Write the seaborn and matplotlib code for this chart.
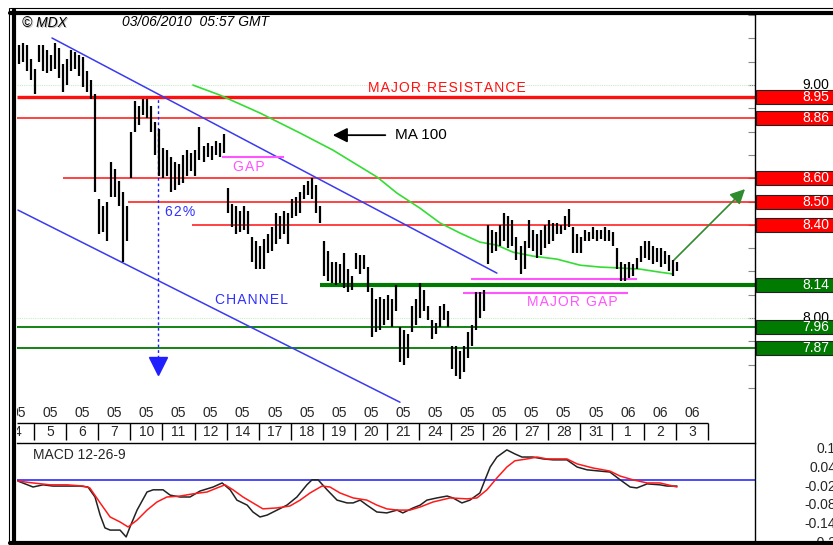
"""
MDX daily chart with support / resistance levels and MACD
"""
# Libraries
import numpy as np
import seaborn as sns
import matplotlib.pyplot as plt
from matplotlib.patches import Rectangle
from matplotlib.lines import Line2D
from matplotlib import transforms

# Seaborn
sns.set_theme(style="white")
plt.rcParams['font.family'] = ['Liberation Sans', 'DejaVu Sans']

# ---------------------------------
# Data
# ---------------------------------
# Price bars (high / low), 8 bars per trading day
bar_high = [9.17, 9.18, 9.17, 9.11, 9.07, 9.17, 9.17, 9.15, 9.13, 9.18,
            9.16, 9.09, 9.11, 9.15, 9.14, 9.13, 9.12, 9.06, 9.02, 8.96,
            8.51, 8.48, 8.50, 8.67, 8.64, 8.59, 8.54, 8.48, 8.80, 8.93,
            8.91, 8.94, 8.94, 8.91, 8.84, 8.81, 8.73, 8.72, 8.69, 8.67,
            8.66, 8.70, 8.72, 8.71, 8.72, 8.82, 8.74, 8.75, 8.74, 8.76,
            8.75, 8.79, 8.56, 8.49, 8.48, 8.46, 8.48, 8.46, 8.35, 8.33,
            8.31, 8.34, 8.36, 8.39, 8.45, 8.44, 8.46, 8.45, 8.51, 8.52,
            8.54, 8.57, 8.59, 8.60, 8.57, 8.48, 8.33, 8.29, 8.24, 8.24,
            8.23, 8.28, 8.21, 8.18, 8.28, 8.27, 8.27, 8.22, 8.13, 8.08,
            8.09, 8.08, 8.10, 8.08, 8.14, 7.96, 7.95, 7.93, 8.05, 8.08,
            8.15, 8.12, 8.05, 7.99, 7.98, 8.05, 8.06, 8.03, 7.88, 7.88,
            7.86, 7.88, 7.94, 7.97, 8.11, 8.11, 8.12, 8.40, 8.38, 8.37,
            8.40, 8.45, 8.44, 8.42, 8.35, 8.31, 8.33, 8.42, 8.38, 8.36,
            8.38, 8.40, 8.42, 8.41, 8.41, 8.40, 8.44, 8.47, 8.39, 8.36,
            8.35, 8.38, 8.37, 8.39, 8.38, 8.38, 8.39, 8.38, 8.37, 8.30,
            8.24, 8.23, 8.24, 8.23, 8.26, 8.31, 8.33, 8.33, 8.31, 8.30,
            8.30, 8.29, 8.27, 8.25, 8.24]
bar_low = [9.09, 9.10, 9.06, 9.02, 8.96, 9.10, 9.06, 9.05, 9.06, 9.07,
           9.03, 8.97, 9.00, 9.06, 9.07, 9.04, 8.99, 8.97, 8.94, 8.54,
           8.36, 8.37, 8.33, 8.52, 8.52, 8.48, 8.24, 8.33, 8.60, 8.80,
           8.83, 8.87, 8.86, 8.80, 8.70, 8.61, 8.60, 8.61, 8.54, 8.55,
           8.57, 8.58, 8.61, 8.63, 8.61, 8.68, 8.67, 8.69, 8.68, 8.70,
           8.69, 8.71, 8.45, 8.39, 8.36, 8.37, 8.38, 8.36, 8.24, 8.21,
           8.21, 8.21, 8.28, 8.29, 8.32, 8.34, 8.36, 8.32, 8.43, 8.44,
           8.45, 8.51, 8.53, 8.51, 8.45, 8.41, 8.18, 8.16, 8.15, 8.14,
           8.15, 8.13, 8.11, 8.12, 8.21, 8.19, 8.21, 8.11, 7.92, 7.94,
           7.95, 7.97, 7.99, 7.96, 8.03, 7.81, 7.80, 7.83, 7.94, 7.97,
           8.00, 8.03, 7.99, 7.91, 7.93, 7.96, 7.99, 7.96, 7.78, 7.75,
           7.74, 7.77, 7.83, 7.88, 7.95, 8.00, 8.03, 8.23, 8.28, 8.29,
           8.31, 8.33, 8.30, 8.31, 8.25, 8.19, 8.21, 8.30, 8.29, 8.26,
           8.27, 8.30, 8.32, 8.33, 8.36, 8.36, 8.38, 8.39, 8.28, 8.28,
           8.28, 8.33, 8.33, 8.34, 8.33, 8.34, 8.33, 8.33, 8.31, 8.21,
           8.16, 8.16, 8.17, 8.18, 8.21, 8.24, 8.26, 8.25, 8.23, 8.24,
           8.22, 8.23, 8.20, 8.18, 8.20]

# MA 100 (day position, price)
ma_day = [5.95, 6.79, 8.04, 9.29, 10.31, 11.69, 12.31, 13.02, 13.65, 14.27,
          14.89, 15.42, 15.92, 16.54, 17.29, 18.01, 18.63, 19.26, 19.88,
          20.50, 20.91]
ma_price = [9.000, 8.957, 8.880, 8.794, 8.721, 8.605, 8.536, 8.472, 8.408,
            8.365, 8.326, 8.313, 8.283, 8.266, 8.253, 8.227, 8.219, 8.215,
            8.210, 8.197, 8.189]

# MACD 12-26-9
macd_day = [0.50, 0.97, 1.28, 1.59, 2.03, 2.43, 2.68, 2.90, 3.06, 3.21,
            3.37, 3.68, 3.87, 3.99, 4.21, 4.52, 4.71, 5.02, 5.24, 5.55,
            5.86, 6.17, 6.58, 6.86, 7.11, 7.32, 7.64, 7.82, 8.04, 8.26,
            8.57, 8.88, 9.19, 9.50, 9.66, 9.85, 10.13, 10.44, 10.75, 10.94,
            11.16, 11.37, 11.68, 11.99, 12.31, 12.49, 12.81, 13.03, 13.24,
            13.55, 13.87, 14.05, 14.33, 14.58, 14.89, 15.05, 15.21, 15.42,
            15.73, 15.98, 16.20, 16.54, 16.86, 17.17, 17.60, 17.92, 18.23,
            18.63, 18.94, 19.26, 19.57, 19.78, 20.10, 20.50, 20.72, 21.03]
macd_value = [-0.002, -0.021, -0.014, -0.018, -0.018, -0.018, -0.021, -0.053,
              -0.111, -0.152, -0.159, -0.159, -0.181, -0.149, -0.095, -0.037,
              -0.030, -0.030, -0.047, -0.053, -0.053, -0.034, -0.021, -0.008,
              -0.030, -0.063, -0.079, -0.101, -0.117, -0.111, -0.095, -0.079,
              -0.053, -0.014, 0.002, 0.002, -0.030, -0.063, -0.072, -0.072,
              -0.063, -0.079, -0.101, -0.104, -0.095, -0.104, -0.088, -0.079,
              -0.063, -0.056, -0.050, -0.056, -0.072, -0.063, -0.040, 0.002,
              0.043, 0.075, 0.098, 0.085, 0.075, 0.075, 0.069, 0.066, 0.066,
              0.043, 0.034, 0.030, 0.027, 0.002, -0.021, -0.024, -0.011,
              -0.014, -0.018, -0.018]
signal_day = [0.50, 0.97, 1.50, 2.03, 2.53, 2.74, 3.06, 3.37, 3.68, 3.93,
              4.21, 4.52, 4.83, 5.14, 5.55, 5.95, 6.39, 6.70, 6.95, 7.20,
              7.51, 7.82, 8.13, 8.57, 8.97, 9.29, 9.60, 9.97, 10.22, 10.53,
              10.94, 11.37, 11.68, 11.99, 12.31, 12.71, 13.03, 13.43, 13.96,
              14.49, 14.80, 15.11, 15.42, 15.73, 15.98, 16.36, 16.67, 16.98,
              17.60, 17.92, 18.41, 18.94, 19.26, 19.66, 20.10, 20.50, 21.03]
signal_value = [-0.002, -0.008, -0.014, -0.014, -0.018, -0.024, -0.072, -0.117,
                -0.133, -0.149, -0.127, -0.095, -0.069, -0.053, -0.050, -0.043,
                -0.037, -0.024, -0.014, -0.030, -0.053, -0.072, -0.091, -0.088,
                -0.082, -0.063, -0.040, -0.018, -0.021, -0.040, -0.056, -0.063,
                -0.079, -0.091, -0.095, -0.095, -0.085, -0.069, -0.056, -0.059,
                -0.056, -0.030, 0.008, 0.043, 0.063, 0.069, 0.075, 0.069,
                0.069, 0.053, 0.040, 0.030, 0.014, 0.002, -0.008, -0.008,
                -0.021]

# Date axis
day_labels = ['4', '5', '6', '7', '10', '11', '12', '14', '17', '18', '19',
              '20', '21', '24', '25', '26', '27', '28', '31', '1', '2', '3']
month_labels = ['05'] * 19 + ['06'] * 3

# Levels: (price, day where the line starts)
resistance = [8.95, 8.86, 8.60, 8.50, 8.40]
resistance_start = [0.0, 0.0, 1.90, 3.93, 5.92]
support = [8.14, 7.96, 7.87]
support_start = [9.91, 0.0, 0.0]

# MACD scale labels
macd_ticks = [0.1, 0.04, -0.02, -0.08, -0.14, -0.2]

# ---------------------------------
# Layout constants (pixels)
# ---------------------------------
W, H = 833, 545
XL, XR = 17, 755
XLIM = (0.47, 23.46)


def fx(x):
    return x / W


def fy(y):
    return 1 - y / H


def spaced(s):
    return '\u200a'.join(s)


# ---------------------------------
# Figure
# ---------------------------------
f = plt.figure(figsize=(W / 100, H / 100), dpi=100)
f.patch.set_facecolor('white')

ax = f.add_axes([fx(XL), fy(405), fx(XR - XL), 391 / H])
ax_d = f.add_axes([fx(XL), fy(443), fx(XR - XL), 38 / H])
ax_m = f.add_axes([fx(XL), fy(541), fx(XR - XL), 98 / H])

for a in (ax, ax_d, ax_m):
    a.set_xlim(*XLIM)
    a.set_facecolor('white')
    for s in a.spines.values():
        s.set_visible(False)
    a.set_xticks([])
    a.set_yticks([])

# ----------------------
# Price panel
# ----------------------
ax.set_ylim(7.627, 9.305)

# Light grid at round prices
ax.axhline(9.0, color='#c8eec8', lw=0.8, ls=(0, (1, 1)), zorder=1)
ax.axhline(8.0, color='#c8eec8', lw=0.8, ls=(0, (1, 1)), zorder=1)

# Resistance / support lines
for lvl, start in zip(resistance, resistance_start):
    ax.hlines(lvl, max(start, XLIM[0]), XLIM[1], color='#ff1010',
              lw=2.4 if lvl == 8.95 else 1.1, zorder=2)
for lvl, start in zip(support, support_start):
    ax.hlines(lvl, max(start, XLIM[0]), XLIM[1], color='#007a00',
              lw=3.0 if lvl == 8.14 else 1.3, zorder=2)

# Channel
ax.plot([1.56, 15.42], [9.202, 8.193], color='#3a3af0', lw=1.1, zorder=3)
ax.plot([0.50, 12.40], [8.4635, 7.639], color='#3a3af0', lw=1.1, zorder=3)

# Price bars
bar_day = 0.53 + np.arange(len(bar_high)) / 8
ax.vlines(bar_day, bar_low, bar_high, color='black', lw=1.6, zorder=4)

# MA 100
sns.lineplot(x=ma_day, y=ma_price, ax=ax, color='#33dd33', lw=1.2,
             zorder=3, sort=False)
ax.set(xlabel='', ylabel='')

# 62% projection
ax.vlines(4.86, 7.83, 8.948, color='#2020ff', lw=1.0,
          linestyles=(0, (2, 2)), zorder=3)
ax.plot([4.86], [7.795], marker='v', ms=13, color='#2020ff', zorder=3)
ax.text(5.08, 8.455, spaced('62%'), color='#3030ff', fontsize=10,
        va='center', ha='left')

# Gaps
ax.hlines(8.691, 6.86, 8.79, color='#ff55ff', lw=1.5, zorder=3)
ax.text(7.20, 8.648, spaced('GAP'), color='#ff55ff', fontsize=10,
        va='center', ha='left')
ax.hlines(8.167, 14.61, 19.78, color='#ff55ff', lw=1.5, zorder=3)
ax.hlines(8.107, 14.36, 19.50, color='#ff55ff', lw=1.5, zorder=3)
ax.text(16.36, 8.069, spaced('MAJOR GAP'), color='#ff55ff', fontsize=10,
        va='center', ha='left')

# Texts
ax.text(11.40, 8.987, spaced('MAJOR RESISTANCE'), color='#ff1010',
        fontsize=10, va='center', ha='left')
ax.text(6.64, 8.077, spaced('CHANNEL'), color='#3030ff', fontsize=10,
        va='center', ha='left')
ax.text(12.25, 8.785, 'MA 100', color='black', fontsize=11,
        va='center', ha='left')
ax.annotate('', xy=(10.22, 8.785), xytext=(12.03, 8.785),
            arrowprops=dict(arrowstyle='-|>', color='black', lw=1.3,
                            mutation_scale=22))
ax.annotate('', xy=(23.21, 8.562), xytext=(20.87, 8.24),
            arrowprops=dict(arrowstyle='-|>', color='#2e8b2e', lw=1.2,
                            mutation_scale=22))

# Right price scale
ax.set_yticks(np.round(np.arange(7.7, 9.31, 0.1), 2))
ax.yaxis.tick_right()
ax.tick_params(axis='y', direction='in', length=5, width=0.8,
               color='#888888', labelright=False, right=True, pad=0)
tr = transforms.blended_transform_factory(f.transFigure, ax.transData)
for lvl in (9.0, 8.0):
    ax.text(fx(802), lvl, f'{lvl:.2f}', transform=tr, fontsize=10,
            color='black', va='center', ha='left', clip_on=False)
for lvl, col in [(v, '#ff0000') for v in resistance] + \
                [(v, '#007a00') for v in support]:
    ax.add_patch(Rectangle((fx(756), lvl - 0.03), fx(90), 0.06,
                           transform=tr, facecolor=col, edgecolor='#222222',
                           lw=0.8, clip_on=False, zorder=5))
    ax.text(fx(802), lvl, f'{lvl:.2f}', transform=tr, fontsize=10,
            color='white', va='center', ha='left', clip_on=False, zorder=6)

# ----------------------
# Date strip
# ----------------------
ax_d.set_ylim(0, 1)
n_days = len(day_labels)
ax_d.hlines(0.526, XLIM[0], n_days, color='black', lw=1.0)
ax_d.vlines(np.arange(1, n_days + 1), 0.08, 0.526, color='black', lw=1.0)
for i, (m, d) in enumerate(zip(month_labels, day_labels)):
    ax_d.text(i + 0.5, 0.79, m, fontsize=10, ha='center', va='center',
              clip_on=True)
    ax_d.text(i + 0.5, 0.29, d, fontsize=10, ha='center', va='center',
              clip_on=True)

# ----------------------
# MACD panel
# ----------------------
ax_m.set_ylim(-0.194, 0.120)
ax_m.spines['top'].set_visible(True)
ax_m.spines['top'].set_color('black')
ax_m.spines['top'].set_linewidth(1.0)
ax_m.axhline(0, color='#1a1aff', lw=1.1, zorder=1)
sns.lineplot(x=macd_day, y=macd_value, ax=ax_m, color='#222222', lw=1.1,
             sort=False, zorder=3)
sns.lineplot(x=signal_day, y=signal_value, ax=ax_m, color='#ff1a1a',
             lw=1.1, sort=False, zorder=4)
ax_m.set(xlabel='', ylabel='')
ax_m.text(0.97, 0.082, 'MACD 12-26-9', fontsize=10, va='center', ha='left')
trm = transforms.blended_transform_factory(f.transFigure, ax_m.transData)
for v in macd_ticks:
    ax_m.text(fx(836), v, f'{v:g}', transform=trm, fontsize=10,
              va='center', ha='right', clip_on=False)

# ----------------------
# Frame and header
# ----------------------
frame = [((10, 833), (8, 8), 0.8), ((10, 833), (13, 13), 3.0),
         ((9, 9), (8, 545), 0.8), ((14, 14), (10, 545), 3.0),
         ((10, 833), (543, 543), 3.0), ((XR, XR), (14, 545), 1.0)]
for xs, ys, lw in frame:
    f.add_artist(Line2D([fx(xs[0]), fx(xs[1])], [fy(ys[0]), fy(ys[1])],
                        transform=f.transFigure, color='black', lw=lw))

f.text(fx(23), fy(24), '\u00a9 MDX', fontsize=10, style='italic',
       color='#bbbbbb', va='center', ha='left')
f.text(fx(22), fy(23), '\u00a9 MDX', fontsize=10, style='italic',
       color='black', va='center', ha='left')
f.text(fx(122), fy(22), '03/06/2010  05:57 GMT', fontsize=10,
       style='italic', color='black', va='center', ha='left')

# Save
f.savefig('out.png', dpi=100)
